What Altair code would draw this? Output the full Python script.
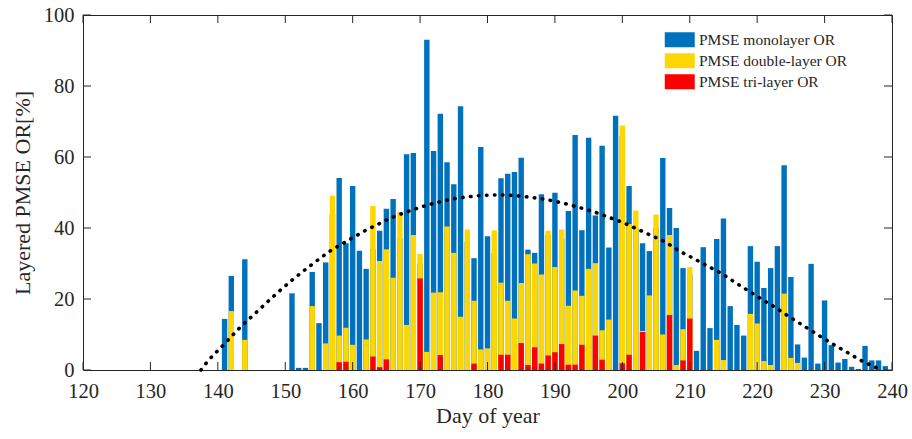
import altair as alt
import pandas as pd

days = list(range(141, 240))
mono = [14.4, 26.5, 0, 31.2, 0, 0, 0, 0, 0, 0,
        21.6, 0.6, 0.6, 27.6, 13.2, 30.3, 44, 54.1, 35.7, 51.8,
        33.6, 28.5, 34, 39.2, 45.4, 48.2, 37, 60.8, 61.1, 30,
        93.0, 61.7, 72.2, 58.5, 52.3, 74.3, 36, 31.5, 62.8, 37.7,
        33, 54.0, 55.3, 55.8, 59.8, 33.9, 33.0, 49.5, 38, 49.9,
        37, 44.8, 66.2, 39.4, 65.4, 43.5, 63.2, 34.5, 71.6, 66,
        51.8, 40, 35.7, 33.5, 40, 59.7, 45.6, 40.0, 28.7, 27,
        5.4, 34.6, 11.8, 36.9, 42.7, 18.0, 12.7, 9.7, 34.9, 30.5,
        23.1, 28.7, 34.9, 57.7, 26.2, 7.2, 3.5, 29.9, 1.8, 19.6,
        7.0, 2.1, 3.1, 0.9, 0.3, 6.8, 2.7, 2.7, 1.1]
double = [0, 16.6, 0, 8.5, 0, 0, 0, 0, 0, 0,
          0, 0, 0, 18.0, 0, 7.5, 49.1, 9.7, 11.9, 7.1,
          0, 8.6, 46.2, 30.7, 34.0, 26.0, 44.6, 12.7, 38.0, 32.7,
          5.1, 21.8, 21.9, 40.4, 33.0, 15.0, 39.6, 19.5, 5.8, 6.1,
          39.4, 24.6, 19.5, 14.5, 24.5, 32.6, 30.0, 26.9, 39.2, 29.0,
          39.6, 18.1, 22.4, 20.9, 28.5, 30.1, 11.2, 14.2, 0, 68.9,
          41.1, 44.9, 11.0, 21.0, 43.8, 10.0, 38.0, 1.4, 11.5, 29.0,
          0, 0, 0, 8.5, 2.8, 0, 0, 0, 15.8, 13.1,
          2.5, 1.4, 0, 21.5, 3.4, 2.0, 0, 0, 0, 0,
          0, 0, 0, 0, 0, 0, 0, 0, 0]
tri = [0, 0, 0, 0, 0, 0, 0, 0, 0, 0,
       0, 0, 0, 0, 0, 0, 0, 2.2, 2.3, 0,
       0, 0, 3.8, 0.8, 3.0, 0, 0, 0, 0, 25.8,
       0, 0, 4.2, 0, 0, 0, 0, 1.8, 0, 0,
       0, 4.3, 4.3, 0, 7.6, 1.4, 6.4, 1.8, 4.1, 5.0,
       7.3, 1.5, 1.5, 7.1, 0, 9.7, 2.9, 0, 0, 1.9,
       4.3, 0, 10.7, 0, 0, 0, 15.5, 0, 2.7, 14.5,
       0, 0, 0, 0, 0, 0, 0, 0, 0, 0,
       0, 0, 0, 0, 0, 0, 0, 0, 0, 0,
       0, 0, 0, 0, 0, 0, 0, 0, 0]

series_names = ["PMSE monolayer OR", "PMSE double-layer OR", "PMSE tri-layer OR"]
series_colors = ["#0072BD", "#FFD700", "#FF0000"]

fit_days = [137.5, 138.35, 140.8, 143.2, 145.8, 148.4, 151.0, 153.8, 156.5, 159.7,
            161.7, 163.8, 165.9, 168.1, 170.3, 172.6, 174.9, 177.2, 179.5, 181.9,
            184.2, 186.6, 189.0, 191.2, 193.4, 195.7, 197.9, 200.1, 202.2, 204.4,
            206.5, 208.5, 210.6, 212.6, 214.7, 216.7, 218.7, 220.7, 222.7, 224.6,
            227.6, 229.5, 231.5, 233.5, 235.6, 237.8, 238.3]
fit_vals = [0, 2.1, 7.0, 11.8, 16.4, 21.0, 25.3, 29.5, 33.3, 36.9,
            39.1, 41.1, 43.0, 44.6, 46.0, 47.2, 48.2, 48.8, 49.2, 49.3,
            49.1, 48.6, 47.9, 47.0, 45.9, 44.6, 43.1, 41.5, 39.7, 37.8,
            35.9, 33.5, 31.4, 29.3, 27.2, 24.7, 22.3, 19.9, 17.6, 15.2,
            11.6, 9.3, 7.0, 4.8, 2.5, 0.5, 0]

x_ticks = list(range(120, 241, 10))
y_ticks = list(range(0, 101, 20))

rows = []
for name, vals in zip(series_names, [mono, double, tri]):
    for d, v in zip(days, vals):
        if v > 0:
            rows.append({"day": d, "value": v, "series": name})
bars_df = pd.DataFrame(rows)
fit_df = pd.DataFrame({"day": fit_days, "value": fit_vals})
xt_df = pd.DataFrame({"t": x_ticks})
yt_df = pd.DataFrame({"t": y_ticks})

FONT = "Liberation Serif"
W, H = 809, 355

xscale = alt.Scale(domain=[120, 240], nice=False, zero=False, padding=0)
yscale = alt.Scale(domain=[0, 100], nice=False, padding=0)

color = alt.Color(
    "series:N",
    scale=alt.Scale(domain=series_names, range=series_colors),
    legend=alt.Legend(
        title=None, orient="none", legendX=589, legendY=17,
        symbolType="M-2,-1H2V1H-2Z", symbolSize=225, symbolStrokeWidth=0,
        symbolOpacity=1, labelOffset=11.5, rowPadding=4,
        labelFont=FONT, labelFontSize=15.5, labelColor="#262626",
        padding=0,
    ),
)

xaxis = alt.Axis(values=x_ticks, ticks=False, domain=False, grid=False,
                 labelFlush=False, labelOverlap=False,
                 labelFont=FONT, labelFontSize=20.5, labelColor="#262626",
                 labelPadding=11, title="Day of year", titleFont=FONT,
                 titleFontSize=22, titleFontWeight="normal", titleColor="#262626",
                 titlePadding=4)
yaxis = alt.Axis(values=y_ticks, ticks=False, domain=False, grid=False,
                 labelFlush=False, labelOverlap=False,
                 labelFont=FONT, labelFontSize=20.5, labelColor="#262626",
                 labelPadding=9, title="Layered PMSE OR[%]", titleFont=FONT,
                 titleFontSize=22, titleFontWeight="normal", titleColor="#262626",
                 titlePadding=9)

base = alt.Chart(bars_df)
layers = []
for name in series_names:
    layers.append(
        base.transform_filter(alt.datum.series == name).mark_bar(size=5.4).encode(
            x=alt.X("day:Q", scale=xscale, axis=xaxis),
            y=alt.Y("value:Q", scale=yscale, axis=yaxis),
            color=color,
        )
    )

fit = alt.Chart(fit_df).mark_line(
    color="black", strokeWidth=3.6, strokeDash=[0.5, 7.5], strokeCap="round",
    interpolate="monotone"
).encode(x=alt.X("day:Q", scale=xscale), y=alt.Y("value:Q", scale=yscale))

tick_color = "#262626"
xt_bottom = alt.Chart(xt_df).mark_rule(color=tick_color, strokeWidth=1).encode(
    x=alt.X("t:Q", scale=xscale), y=alt.value(H), y2=alt.value(H - 8))
xt_top = alt.Chart(xt_df).mark_rule(color=tick_color, strokeWidth=1).encode(
    x=alt.X("t:Q", scale=xscale), y=alt.value(0), y2=alt.value(8))
yt_left = alt.Chart(yt_df).mark_rule(color=tick_color, strokeWidth=1).encode(
    y=alt.Y("t:Q", scale=yscale), x=alt.value(0), x2=alt.value(8))
yt_right = alt.Chart(yt_df).mark_rule(color=tick_color, strokeWidth=1).encode(
    y=alt.Y("t:Q", scale=yscale), x=alt.value(W), x2=alt.value(W - 8))

chart = alt.layer(*layers, fit, xt_bottom, xt_top, yt_left, yt_right).properties(
    width=W, height=H,
    autosize=alt.AutoSizeParams(type="none"),
    padding={"left": 83, "top": 15, "right": 20, "bottom": 62},
    background="white",
).configure_view(stroke="#262626", strokeWidth=1)

chart.save("out.html", embed_options={"renderer": "svg", "actions": False})
